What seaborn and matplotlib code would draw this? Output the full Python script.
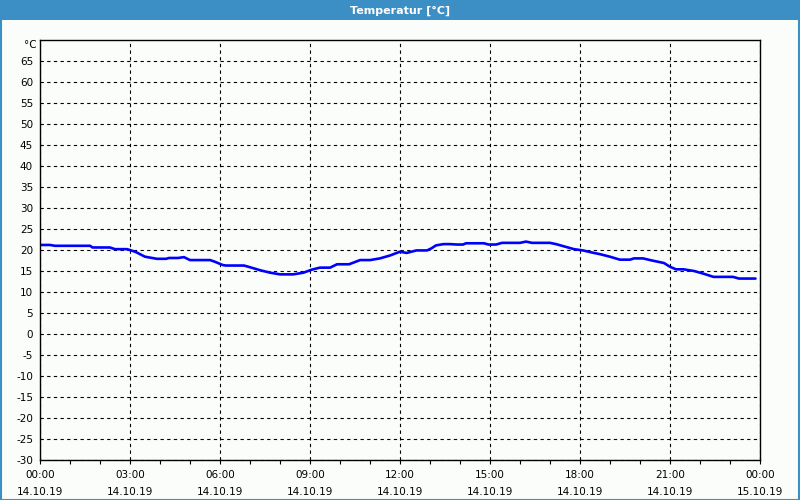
import matplotlib
matplotlib.use("Agg")
import matplotlib.pyplot as plt
from matplotlib.patches import Rectangle
import seaborn as sns
import pandas as pd

# ---- data ----
hours = [0.05, 0.33, 0.5, 1.67, 1.75, 2.33, 2.5, 2.9, 3.0, 3.2, 3.5, 3.9, 4.2, 4.3, 4.6, 4.8,
         5.0, 5.67, 5.83, 6.1, 6.2, 6.8, 7.0, 7.33, 7.67, 8.0, 8.44, 8.78, 9.05, 9.33, 9.67,
         9.9, 10.3, 10.67, 11.0, 11.33, 11.67, 12.0, 12.22, 12.55, 12.9, 13.05, 13.2, 13.45,
         13.67, 13.9, 14.1, 14.2, 14.8, 14.95, 15.2, 15.4, 16.0, 16.2, 16.4, 17.0, 17.2, 17.5,
         17.8, 18.1, 18.4, 18.67, 19.0, 19.33, 19.67, 19.8, 20.1, 20.4, 20.8, 21.0, 21.2,
         21.45, 21.8, 22.1, 22.45, 23.1, 23.3, 23.85]
temps = [21.2, 21.2, 21.0, 21.0, 20.6, 20.6, 20.2, 20.2, 20.0, 19.5, 18.4, 17.9, 17.9, 18.1,
         18.1, 18.3, 17.6, 17.6, 17.2, 16.4, 16.3, 16.3, 15.9, 15.2, 14.6, 14.2, 14.2, 14.6,
         15.3, 15.8, 15.8, 16.6, 16.6, 17.6, 17.6, 18.0, 18.7, 19.6, 19.3, 19.9, 19.9, 20.4,
         21.1, 21.4, 21.4, 21.3, 21.3, 21.6, 21.6, 21.3, 21.3, 21.7, 21.7, 22.0, 21.7, 21.7,
         21.4, 20.8, 20.2, 19.9, 19.4, 19.0, 18.4, 17.7, 17.7, 18.0, 18.0, 17.5, 16.9, 16.0,
         15.4, 15.4, 15.0, 14.4, 13.6, 13.6, 13.2, 13.2]
xtick_pos = [0, 3, 6, 9, 12, 15, 18, 21, 24]
xtick_labels = ["00:00\n14.10.19", "03:00\n14.10.19", "06:00\n14.10.19", "09:00\n14.10.19",
                "12:00\n14.10.19", "15:00\n14.10.19", "18:00\n14.10.19", "21:00\n14.10.19",
                "00:00\n15.10.19"]
ytick_vals = list(range(-30, 70, 5))
title = "Temperatur [°C]"
unit = "°C"

df = pd.DataFrame({"h": hours, "t": temps})

sns.set_theme(style="white")
plt.rcParams["font.family"] = ["DejaVu Sans"]

bg = "#fbfdfb"
bar = "#3c8fc4"
fig = plt.figure(figsize=(8, 5), dpi=100, facecolor=bg)
ax = fig.add_axes([0.05, 0.08, 0.90, 0.84])
ax.set_facecolor(bg)

sns.lineplot(data=df, x="h", y="t", ax=ax, color="#0000ff", linewidth=1.9)

ax.set_xlim(0, 24)
ax.set_ylim(-30, 70)
ax.set_xticks(xtick_pos)
ax.set_xticklabels(xtick_labels, fontsize=7.5, color="black", linespacing=1.85)
ax.set_xticks(range(0, 25), minor=True)
ax.set_yticks(ytick_vals)
ax.set_yticklabels([str(v) for v in ytick_vals], fontsize=7.5, color="black")
ax.set_xlabel("")
ax.set_ylabel("")

ax.tick_params(axis="x", which="both", direction="out", length=3, width=0.8,
               color="black", bottom=True, pad=4)
ax.tick_params(axis="y", which="both", length=0, pad=5)

ax.grid(True, which="major", color="black", linestyle=(0, (3, 3)), linewidth=0.8)
ax.set_axisbelow(True)
for s in ax.spines.values():
    s.set_visible(True)
    s.set_color("black")
    s.set_linewidth(1.0)

ax.text(-0.004, 68.8, unit, transform=ax.get_yaxis_transform(), ha="right",
        va="center", fontsize=7.5, color="black")

# title bar and frame
fig.patches.append(Rectangle((0, 0.96), 1, 0.04, transform=fig.transFigure,
                             facecolor=bar, edgecolor="none", zorder=0))
fig.patches.append(Rectangle((0.001, 0.001), 0.998, 0.998, transform=fig.transFigure,
                             facecolor="none", edgecolor=bar, linewidth=1.5, zorder=1))
fig.text(0.5, 0.979, title, ha="center", va="center", color="white",
         fontsize=8, fontweight="bold")

fig.savefig("out.png", dpi=100, facecolor=bg)
